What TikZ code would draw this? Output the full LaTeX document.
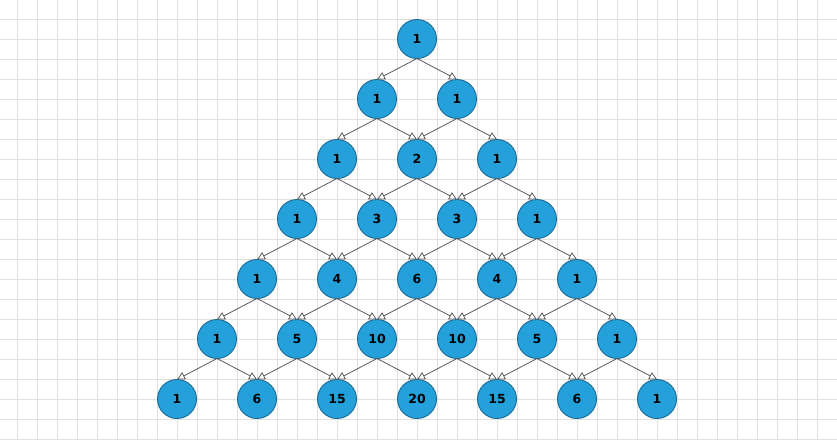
\documentclass[tikz,border=0pt]{standalone}
\usepackage{fontspec}
\setmainfont{DejaVu Sans}
\usetikzlibrary{arrows.meta}
\definecolor{gridc}{HTML}{E0E0E0}
\definecolor{nodefill}{HTML}{24A0DA}
\definecolor{nodeline}{HTML}{1B6B97}
\definecolor{edgec}{HTML}{5A5A5A}
\tikzset{
  gridline/.style={draw=gridc, line width=1pt},
  pnode/.style={circle, fill=nodefill, draw=nodeline, line width=0.9pt, minimum size=39pt, inner sep=0pt, outer sep=0pt, font=\fontsize{12.5}{14}\selectfont\bfseries, text=black},
  pedge/.style={draw=edgec, line width=0.8pt, -{Triangle[open, length=8pt, width=8pt, fill=white]}}
}
\begin{document}
\begin{tikzpicture}[x=1pt, y=-1pt]
\useasboundingbox (0,0) rectangle (837,440);
\fill[white] (0,0) rectangle (837,440);
\foreach \gx in {0,...,41} { \draw[gridline] (17.3+20*\gx,0) -- (17.3+20*\gx,440); }
\foreach \gy in {0,...,21} { \draw[gridline] (0,19.3+20*\gy) -- (837,19.3+20*\gy); }
% rows
\foreach \r/\vals in {0/{1}, 1/{1,1}, 2/{1,2,1}, 3/{1,3,3,1}, 4/{1,4,6,4,1}, 5/{1,5,10,10,5,1}, 6/{1,6,15,20,15,6,1}} {
  \foreach \v [count=\i from 0] in \vals {
    \node[pnode] (n-\r-\i) at ({417+80*\i-40*\r},{39+60*\r}) {\v};
  }
}
% edges
\foreach \r in {0,...,5} {
  \pgfmathtruncatemacro{\nr}{\r+1}
  \foreach \i in {0,...,\r} {
    \pgfmathtruncatemacro{\ni}{\i+1}
    \draw[pedge] (n-\r-\i.south) -- (n-\nr-\i.north);
    \draw[pedge] (n-\r-\i.south) -- (n-\nr-\ni.north);
  }
}
\end{tikzpicture}
\end{document}
